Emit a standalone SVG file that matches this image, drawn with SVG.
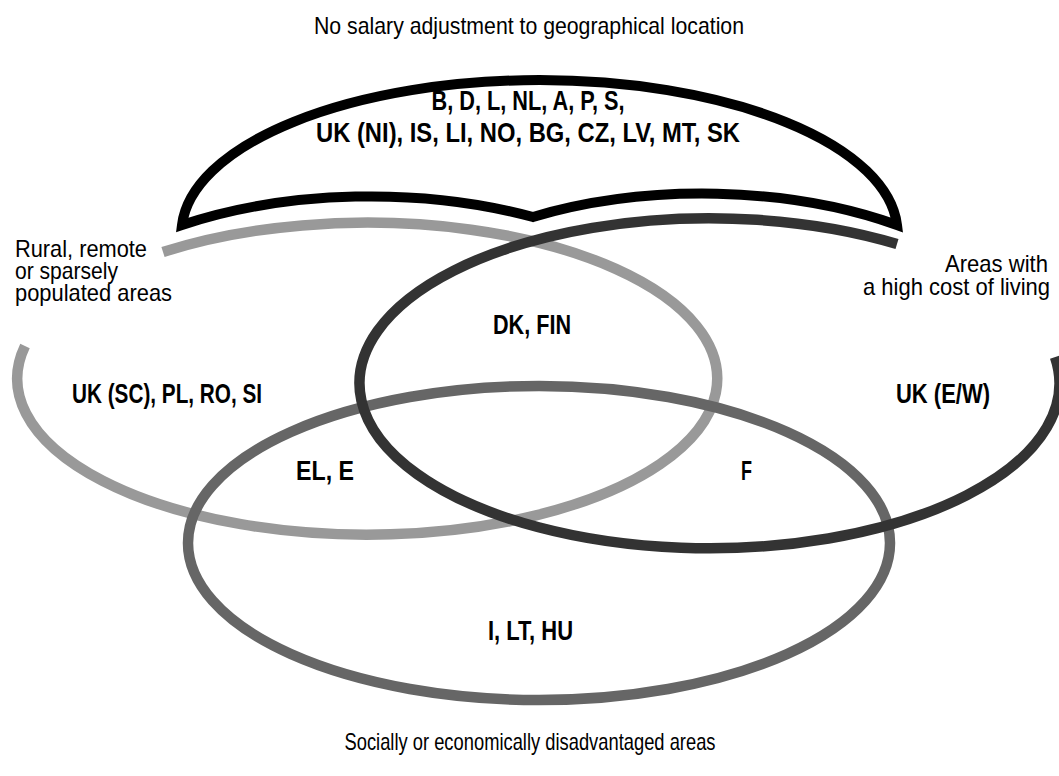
<svg xmlns="http://www.w3.org/2000/svg" width="1059" height="776" viewBox="0 0 1059 776">
<style>
.t{font-family:"Liberation Sans","DejaVu Sans",sans-serif;font-size:24px;fill:#000}
.b{font-family:"Liberation Sans","DejaVu Sans",sans-serif;font-size:28px;font-weight:bold;fill:#000}
.ring{fill:none;stroke-width:10.5}
</style>
<rect width="1059" height="776" fill="#fff"/>
<g id="connectors">
<path id="rural" class="ring" stroke="#999999" d="M 163 252 A 350 156 0 1 1 25 346"/>
<ellipse id="disadvantaged" class="ring" stroke="#666666" cx="539" cy="543" rx="351" ry="157"/>
<path id="highcost" class="ring" stroke="#333333" stroke-width="11" d="M 1055 357 A 350 165 0 1 1 897 244"/>
</g>
<g id="nosalary">
<path d="M 182 225 A 358 153 0 0 1 897 225 A 340 175 0 0 0 533 217 A 340 170 0 0 0 182 225 Z" fill="#fff" stroke="#000" stroke-width="10" stroke-linejoin="miter" stroke-miterlimit="10"/>
<text class="b" x="528" y="110" text-anchor="middle" textLength="193" lengthAdjust="spacingAndGlyphs">B, D, L, NL, A, P, S,</text>
<text class="b" x="528" y="142" text-anchor="middle" textLength="424" lengthAdjust="spacingAndGlyphs">UK (NI), IS, LI, NO, BG, CZ, LV, MT, SK</text>
</g>
<g id="labels">
<text class="t" x="529" y="34" text-anchor="middle" textLength="430" lengthAdjust="spacingAndGlyphs">No salary adjustment to geographical location</text>
<text class="t" x="15" y="257" textLength="132" lengthAdjust="spacingAndGlyphs">Rural, remote</text>
<text class="t" x="15" y="279" textLength="103" lengthAdjust="spacingAndGlyphs">or sparsely</text>
<text class="t" x="15" y="301" textLength="157" lengthAdjust="spacingAndGlyphs">populated areas</text>
<text class="t" x="1048" y="272" text-anchor="end" textLength="103" lengthAdjust="spacingAndGlyphs">Areas with</text>
<text class="t" x="1050" y="295" text-anchor="end" textLength="187" lengthAdjust="spacingAndGlyphs">a high cost of living</text>
<text class="t" x="530" y="750" text-anchor="middle" textLength="371" lengthAdjust="spacingAndGlyphs">Socially or economically disadvantaged areas</text>
</g>
<g id="regions">
<text class="b" x="532" y="334" text-anchor="middle" textLength="78" lengthAdjust="spacingAndGlyphs">DK, FIN</text>
<text class="b" x="72" y="403" textLength="190" lengthAdjust="spacingAndGlyphs">UK (SC), PL, RO, SI</text>
<text class="b" x="896" y="403" textLength="94" lengthAdjust="spacingAndGlyphs">UK (E/W)</text>
<text class="b" x="296" y="480" textLength="58" lengthAdjust="spacingAndGlyphs">EL, E</text>
<text class="b" x="741" y="480" textLength="11" lengthAdjust="spacingAndGlyphs">F</text>
<text class="b" x="488" y="640" textLength="85" lengthAdjust="spacingAndGlyphs">I, LT, HU</text>
</g>
</svg>
